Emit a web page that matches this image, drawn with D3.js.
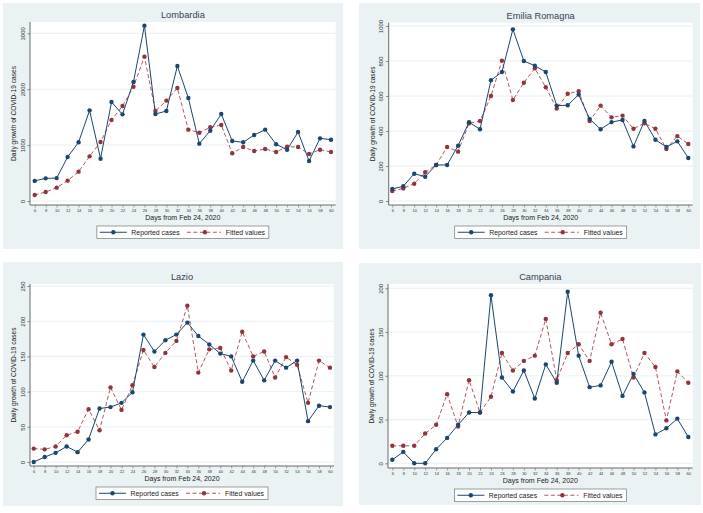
<!DOCTYPE html>
<html><head><meta charset="utf-8">
<script src="https://cdn.jsdelivr.net/npm/d3@7"></script>
<style>body{margin:0;background:#fff} svg{display:block} text{font-family:"Liberation Sans",Arial,sans-serif;font-weight:normal}</style>
</head><body><svg id="c" width="703" height="513"></svg>
<script>
// ---- data ----
const days = [6,8,10,12,14,16,18,20,22,24,26,28,30,32,34,36,38,40,42,44,46,48,50,52,54,56,58,60];

const lombardiaReported = [360,405,410,787,1050,1622,757,1771,1550,2129,3137,1556,1610,2415,1843,1026,1258,1556,1073,1050,1181,1276,1014,918,1234,716,1121,1097];
const lombardiaFitted   = [107,161,239,364,525,799,1055,1449,1699,2045,2582,1610,1795,2021,1276,1222,1318,1360,853,966,894,930,877,972,966,841,918,877];
const lombardiaTicks = [0,1000,2000,3000];

const emiliaReported = [69,84,156,139,206,206,316,450,410,690,737,981,800,773,737,545,547,608,469,410,451,463,312,457,350,309,341,246];
const emiliaFitted   = [57,72,99,164,206,309,282,444,457,600,802,577,676,758,650,528,613,627,457,545,478,488,413,444,413,297,371,326];
const emiliaTicks = [0,200,400,600,800,1000];

const lazioReported = [0,7,13,22,14,32,76,78,84,99,181,157,173,181,198,179,167,154,150,114,144,116,144,134,144,58,80,78];
const lazioFitted   = [19,18,22,38,43,75,45,106,74,109,159,135,155,172,222,127,160,162,130,185,150,157,120,149,138,84,144,134];
const lazioTicks = [0,50,100,150,200,250];

const campaniaReported = [4,13,0,0,16,29,44,58,58,192,98,82,106,74,113,92,196,123,87,89,116,77,102,81,33,40,51,30];
const campaniaFitted   = [20,20,20,34,44,79,42,95,58,76,126,106,117,123,165,95,126,136,117,172,136,142,98,126,110,49,105,92];
const campaniaTicks = [0,50,100,150,200];

const seriesNames = ["Reported cases","Fitted values"];
const xTitle = "Days from Feb 24, 2020";
const yTitle = "Daily growth of COVID-19 cases";

// ---- layout ----
const panels = [
  {title:"Lombardia", rep:lombardiaReported, fit:lombardiaFitted, ticks:lombardiaTicks,
   bg:[3,3,343,249], plot:[30,22,335.7,205], xr:[34.7,331], yr:[201,33.3]},
  {title:"Emilia Romagna", rep:emiliaReported, fit:emiliaFitted, ticks:emiliaTicks,
   bg:[359,3,700,249], plot:[388.7,22.7,692.7,205], xr:[392.3,688.3], yr:[201,26]},
  {title:"Lazio", rep:lazioReported, fit:lazioFitted, ticks:lazioTicks,
   bg:[3,262,343,506], plot:[30,284,334,466], xr:[33.7,330], yr:[462,286]},
  {title:"Campania", rep:campaniaReported, fit:campaniaFitted, ticks:campaniaTicks,
   bg:[359,263,701,505], plot:[388,284,692.7,468], xr:[392.3,688.3], yr:[463.3,288.3]}
];

const NAVY = "#1a476f", MAROON = "#90353b", MAROON_L = "#a8444b";
const BG = "#eaf2f3", GRID = "#e3ecef", AX = "#6b6b6b";
const FONT = '"Liberation Sans",Arial,sans-serif';

const svg = d3.select("#c");

panels.forEach(p => {
  const g = svg.append("g");
  const [pl, pt, pr, pb] = p.plot;
  g.append("rect").attr("x", p.bg[0]).attr("y", p.bg[1])
    .attr("width", p.bg[2]-p.bg[0]).attr("height", p.bg[3]-p.bg[1]).attr("fill", BG);
  g.append("rect").attr("x", pl).attr("y", pt).attr("width", pr-pl).attr("height", pb-pt).attr("fill", "#fff");

  const x = d3.scaleLinear().domain([days[0], days[days.length-1]]).range(p.xr);
  const ymax = p.ticks[p.ticks.length-1];
  const y = d3.scaleLinear().domain([0, ymax]).range(p.yr);

  // gridlines
  g.append("g").selectAll("line").data(p.ticks).join("line")
    .attr("x1", pl).attr("x2", pr).attr("y1", d=>y(d)).attr("y2", d=>y(d))
    .attr("stroke", GRID).attr("stroke-width", 0.8);

  // y axis
  const ya = g.append("g").attr("transform", `translate(${pl},0)`)
    .call(d3.axisLeft(y).tickValues(p.ticks).tickFormat(d3.format("d")).tickSize(2.5).tickPadding(2).tickSizeOuter(0));
  ya.select(".domain").attr("stroke", AX).attr("d", `M0,${pt}V${pb}`);
  ya.selectAll(".tick line").attr("stroke", AX).attr("stroke-width", 0.8);
  ya.selectAll(".tick text").attr("font-size", 6).attr("fill", "#333")
    .attr("text-anchor", "middle").attr("x", 0).attr("dy", 0)
    .attr("transform", "translate(-5.5,0) rotate(-90)").attr("y", 0)
    .attr("font-family", FONT);

  // x axis
  const xa = g.append("g").attr("transform", `translate(0,${pb})`)
    .call(d3.axisBottom(x).tickValues(days).tickSize(2.5).tickPadding(1.5).tickSizeOuter(0));
  xa.select(".domain").attr("stroke", AX).attr("d", `M${pl},0H${pr}`);
  xa.selectAll(".tick line").attr("stroke", AX).attr("stroke-width", 0.6);
  xa.selectAll(".tick text").attr("font-size", 4).attr("fill", "#333")
    .attr("font-family", FONT);

  const cx = (pl+pr)/2;
  // titles
  g.append("text").attr("x", cx).attr("y", pt-3.8).attr("text-anchor","middle")
    .attr("font-size", 9.3).attr("fill","#3a3f55").text(p.title);
  g.append("text").attr("x", cx).attr("y", pb+15.3).attr("text-anchor","middle")
    .attr("font-size", 7).attr("fill","#222").text(xTitle);
  g.append("text").attr("transform", `translate(${pl-14},${(pt+pb)/2}) rotate(-90)`)
    .attr("text-anchor","middle").attr("font-size", 6.6).attr("fill","#222").text(yTitle);

  // lines
  const line = d3.line().x((d,i)=>x(days[i])).y(d=>y(d));
  g.append("path").datum(p.fit).attr("d", line).attr("fill","none")
    .attr("stroke", MAROON_L).attr("stroke-width", 0.9).attr("stroke-dasharray","4,2.5");
  g.append("path").datum(p.rep).attr("d", line).attr("fill","none")
    .attr("stroke", NAVY).attr("stroke-width", 1);
  g.append("g").selectAll("circle").data(p.fit).join("circle")
    .attr("cx",(d,i)=>x(days[i])).attr("cy", d=>y(d)).attr("r", 2.2).attr("fill", MAROON);
  g.append("g").selectAll("circle").data(p.rep).join("circle")
    .attr("cx",(d,i)=>x(days[i])).attr("cy", d=>y(d)).attr("r", 2.2).attr("fill", NAVY);

  // legend
  const lw = 172, lh = 12.5, lx = cx - lw/2, ly = pb + 21;
  const lg = g.append("g").attr("transform", `translate(${lx},${ly})`);
  lg.append("rect").attr("width", lw).attr("height", lh).attr("fill","#fff")
    .attr("stroke","#777").attr("stroke-width",0.7);
  const my = lh/2;
  lg.append("line").attr("x1",3).attr("x2",30).attr("y1",my).attr("y2",my).attr("stroke",NAVY).attr("stroke-width",1);
  lg.append("circle").attr("cx",16.5).attr("cy",my).attr("r",2.2).attr("fill",NAVY);
  lg.append("text").attr("x",34.5).attr("y",my+2.4).attr("font-size",6.9).attr("fill","#222").text(seriesNames[0]);
  lg.append("line").attr("x1",90).attr("x2",124).attr("y1",my).attr("y2",my).attr("stroke",MAROON_L)
    .attr("stroke-width",0.9).attr("stroke-dasharray","4,2.5");
  lg.append("circle").attr("cx",108).attr("cy",my).attr("r",2.2).attr("fill",MAROON);
  lg.append("text").attr("x",129).attr("y",my+2.4).attr("font-size",6.9).attr("fill","#222").text(seriesNames[1]);
});
</script></body></html>
